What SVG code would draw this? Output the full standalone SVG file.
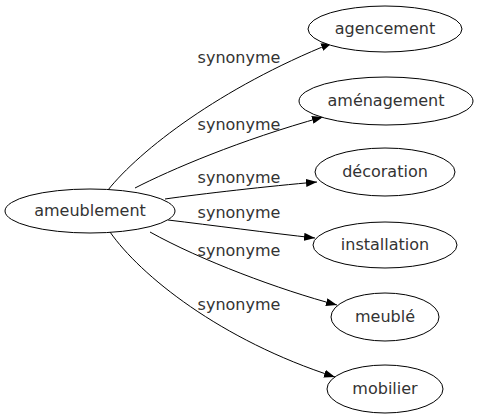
<svg xmlns="http://www.w3.org/2000/svg" width="478" height="419" viewBox="0 0 478 419">
<style>
ellipse{fill:#fff;stroke:#000;stroke-width:1}
text{font-family:"DejaVu Sans",sans-serif;font-size:16px;fill:#333;text-anchor:middle}
.e{fill:none;stroke:#000;stroke-width:1;marker-end:url(#a)}
</style>
<defs>
<marker id="a" markerWidth="11" markerHeight="8" refX="11" refY="4" orient="auto" markerUnits="userSpaceOnUse"><path d="M0,0 L11,4 L0,8 z" fill="#000"/></marker>
</defs>
<rect width="478" height="419" fill="#fff"/>
<g id="edges">
<path class="e" d="M108,190 C140,150 220,88 332,43"/>
<path class="e" d="M135,188 C170,170 240,140 323,117"/>
<path class="e" d="M165,199 C200,194 270,186 317,182"/>
<path class="e" d="M168,220 C210,225 270,233 315,238"/>
<path class="e" d="M150,232 C200,260 280,290 337,305"/>
<path class="e" d="M110,232 C140,275 220,340 335,377"/>
<text x="239" y="63">synonyme</text>
<text x="239" y="130">synonyme</text>
<text x="239" y="183">synonyme</text>
<text x="239" y="218">synonyme</text>
<text x="239" y="256">synonyme</text>
<text x="239" y="310">synonyme</text>
</g>
<g id="ameublement"><ellipse cx="90" cy="211" rx="85" ry="22"/><text x="90" y="216">ameublement</text></g>
<g id="agencement"><ellipse cx="385" cy="29" rx="77" ry="23"/><text x="385" y="34">agencement</text></g>
<g id="amenagement"><ellipse cx="386" cy="101" rx="87" ry="24"/><text x="386" y="106">aménagement</text></g>
<g id="decoration"><ellipse cx="385" cy="172" rx="70" ry="24"/><text x="385" y="177">décoration</text></g>
<g id="installation"><ellipse cx="385" cy="245" rx="72" ry="23"/><text x="385" y="250">installation</text></g>
<g id="meuble"><ellipse cx="385" cy="317" rx="54" ry="24"/><text x="385" y="322">meublé</text></g>
<g id="mobilier"><ellipse cx="385" cy="389" rx="58" ry="24"/><text x="385" y="394">mobilier</text></g>
</svg>
